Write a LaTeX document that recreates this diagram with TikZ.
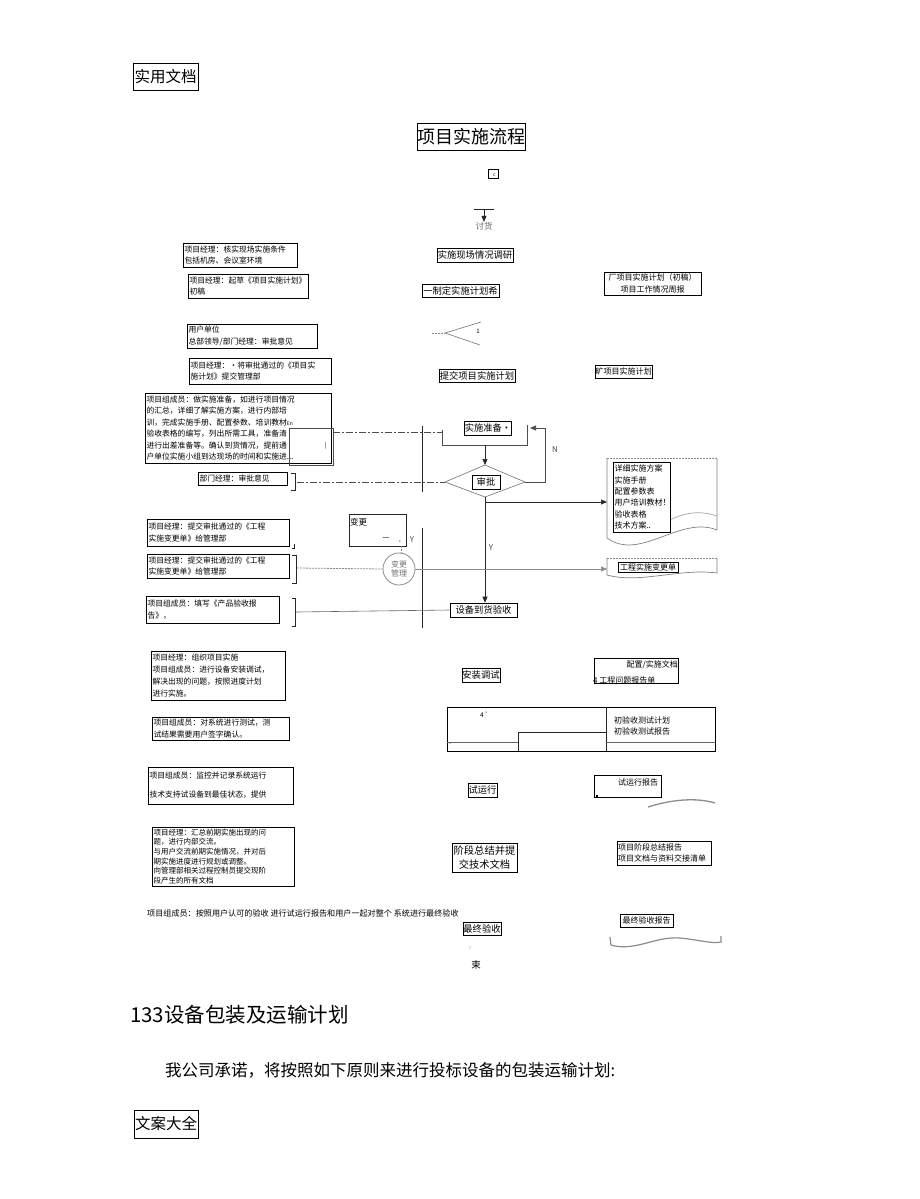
\documentclass[tikz,border=0pt]{standalone}
\usepackage{fontspec}
\setmainfont{Noto Sans CJK SC}
\usetikzlibrary{arrows.meta}
\begin{document}
\begin{tikzpicture}[x=1pt,y=-1pt,
  box/.style={draw=black, line width=0.6pt, inner xsep=1.5pt, inner ysep=0pt},
  note/.style={box, align=left, font=\fontsize{7.8}{11.5}\selectfont},
  cbox/.style={box, align=center, inner xsep=0pt, font=\fontsize{9.3}{11}\selectfont},
  rnote/.style={box, align=left, font=\fontsize{8}{11.3}\selectfont},
  plain/.style={inner sep=0pt, font=\fontsize{8}{10}\selectfont},
  ln/.style={line width=0.6pt, draw=black!85},
  arr/.style={ln, -{Triangle[length=6pt,width=5pt]}},
  dashl/.style={line width=0.9pt, draw=black!70, dash pattern=on 7pt off 2pt on 2pt off 2pt},
  dotl/.style={line width=0.5pt, draw=black!45, dash pattern=on 2pt off 1pt},
  wave/.style={line width=0.7pt, draw=black!50},
]
\fill[white] (0,0) rectangle (920,1199);
\useasboundingbox (0,0) rectangle (920,1199);

% header and title
\node[box, minimum width=65pt, minimum height=27pt, inner xsep=0pt, font=\fontsize{15.5}{16}\selectfont] (hdr) at (165.5,76.5) {实用文档};
\node[box, minimum width=108pt, minimum height=27pt, inner xsep=0pt, font=\fontsize{18}{19}\selectfont] (title) at (471,136.5) {项目实施流程};

% start mark
\node[draw, line width=0.5pt, minimum width=10pt, minimum height=9pt, inner sep=0pt] (start) at (493,173.5) {};
\node[plain, font=\fontsize{5}{5}\selectfont] (startc) at (494.5,175) {c};
\coordinate (tg1) at (474,209);
\coordinate (tg2) at (494,209);
\coordinate (tg) at (484,209);
\draw[ln] (tg1) -- (tg2);
\node[plain, text=black!60, font=\fontsize{8.5}{9}\selectfont] (taohuo) at (484,226) {讨货};
\draw[arr] (tg) -- (taohuo.north);

% left notes
\node[note, minimum width=114pt, text width=111pt, minimum height=24pt] (L1) at (240,255) {项目经理：核实现场实施条件\\包括机房、会议室环境};
\node[note, minimum width=120pt, text width=117pt, minimum height=24pt] (L2) at (248,286) {项目经理：起草《项目实施计划》\\初稿};
\node[note, minimum width=130pt, text width=127pt, minimum height=24pt] (L3) at (252,336) {用户单位\\总部领导/部门经理：审批意见};
\node[note, minimum width=142pt, text width=139pt, minimum height=26pt] (L4) at (260,371) {项目经理：·将审批通过的《项目实\\施计划》提交管理部};
\node[note, minimum width=186pt, text width=183pt, minimum height=70pt] (L5) at (238,428) {项目组成员：做实施准备，如进行项目情况\\的汇总，详细了解实施方案，进行内部培\\训，完成实施手册、配置参数、培训教材{\fontsize{5}{5}\selectfont En}\\验收表格的编写，列出所需工具，准备清\\进行出差准备等。确认到货情况，提前通\\户单位实施小组到达现场的时间和实施进...};
\node[draw=black!70, line width=0.5pt, minimum width=44pt, minimum height=37pt, inner sep=0pt] (L5b) at (311,446.5) {};
\node[plain, font=\fontsize{6}{6}\selectfont] (L5m) at (326,446) {|};
\node[note, minimum width=89pt, text width=86pt, minimum height=13pt] (L6) at (242.5,478.5) {部门经理：审批意见};
\node[note, minimum width=142pt, text width=139pt, minimum height=27pt] (L7) at (218,532.5) {项目经理：提交审批通过的《工程\\实施变更单》给管理部};
\node[note, minimum width=142pt, text width=139pt, minimum height=24pt] (L8) at (218,566) {项目经理：提交审批通过的《工程\\实施变更单》给管理部};
\node[note, minimum width=133pt, text width=130pt, minimum height=27pt] (L9) at (212.5,609.5) {项目组成员：填写《产品验收报\\告》，};
\node[note, minimum width=134pt, text width=131pt, minimum height=49pt, font=\fontsize{7.8}{12}\selectfont] (L10) at (218,675.5) {项目经理：组织项目实施\\项目组成员：进行设备安装调试，\\解决出现的问题，按照进度计划\\进行实施。};
\node[note, minimum width=137pt, text width=134pt, minimum height=23pt] (L11) at (220.5,728.5) {项目组成员：对系统进行测试，测\\试结果需要用户签字确认。};
\node[note, minimum width=145pt, text width=142pt, minimum height=37pt, font=\fontsize{7.8}{19}\selectfont] (L12) at (220.5,785.5) {项目组成员：监控并记录系统运行\\技术支持试设备到最佳状态，提供};
\node[note, minimum width=142pt, text width=139pt, minimum height=59pt, font=\fontsize{7.5}{9.7}\selectfont] (L13) at (223,856.5) {项目经理：汇总前期实施出现的问\\题，进行内部交流。\\与用户交流前期实施情况，并对后\\期实施进度进行规划或调整。\\向管理部相关过程控制员提交现阶\\段产生的所有文档};
\node[plain, anchor=west, font=\fontsize{8.1}{10}\selectfont] (L14) at (147,913) {项目组成员：按照用户认可的验收 进行试运行报告和用户一起对整个 系统进行最终验收};

% brackets at right of notes
\draw[ln] (291,473) -- (295,473) -- (295,490) -- (291,490);
\draw[ln] (292,548) -- (294,548) -- (294,544);
\draw[ln] (292,555) -- (296,555) -- (296,583) -- (292,583);
\draw[ln] (292,598) -- (295,598) -- (295,626) -- (292,626);

% centre column
\node[cbox, minimum width=76pt, minimum height=14pt] (C1) at (475,255) {实施现场情况调研};
\node[cbox, minimum width=77pt, minimum height=13pt] (C2) at (460.5,290.5) {一制定实施计划希};
\node[cbox, minimum width=76pt, minimum height=13pt] (C3) at (477,375.5) {提交项目实施计划};
\node[cbox, minimum width=42pt, minimum height=14pt] (C4) at (488,428) {实施准备·};
\node[cbox, minimum width=28pt, minimum height=14pt] (C5) at (486,482) {审批};
\node[cbox, minimum width=67pt, minimum height=14pt] (C6) at (483.5,610) {设备到货验收};
\node[cbox, minimum width=38pt, minimum height=14pt] (C7) at (481,675) {安装调试};
\node[cbox, minimum width=29pt, minimum height=14pt] (C8) at (482.5,790) {试运行};
\node[cbox, minimum width=65pt, minimum height=29pt, font=\fontsize{10.3}{13.5}\selectfont] (C9) at (484.5,857.5) {阶段总结并提\\交技术文档};
\node[cbox, minimum width=38pt, minimum height=13pt] (C10) at (482,928.5) {最终验收};
\node[plain, text=black!40, font=\fontsize{6}{6}\selectfont] (bang) at (470,948) {!};
\node[plain, font=\fontsize{9.5}{10}\selectfont] (shu) at (476,965) {束};

% branching "<"
\coordinate (lt) at (445,333);
\coordinate (ltU) at (481,322);
\coordinate (ltD) at (480,345);
\coordinate (ltS) at (432,333);
\draw[ln, draw=black!55] (ltU) -- (lt) -- (ltD);
\draw[dotl] (ltS) -- (lt);
\node[plain, font=\fontsize{6}{6}\selectfont] (lt1) at (478,331) {1};

% swim-lane verticals
\coordinate (v1a) at (422,426);
\coordinate (v1b) at (422,492);
\coordinate (v2a) at (422,528);
\coordinate (v2b) at (422,628);
\draw[ln] (v1a) -- (v1b);
\draw[ln] (v2a) -- (v2b);

% preparation bracket and links
\coordinate (pb1) at (442,430);
\coordinate (pb2) at (442,445);
\coordinate (pb3) at (527,445);
\coordinate (pb4) at (527,425);
\draw[ln, draw=black!70] (pb1) -- (pb2) -- (pb3) -- (pb4);
\coordinate (p1) at (333,432);
\coordinate (p2) at (442,432);
\draw[dashl] (p1) -- (p2);

% diamond
\coordinate (dL) at (445,482);
\coordinate (dT) at (485,465);
\coordinate (dR) at (525,482);
\coordinate (dB) at (485,497);
\coordinate (pm) at (485,445);
\draw[arr] (pm) -- (dT);
\draw[ln, draw=black!55] (dL) -- (dT) -- (dR) -- (dB) -- cycle;
\coordinate (nl1) at (545,482);
\coordinate (nl2) at (545,428);
\coordinate (nl3) at (530,428);
\draw[ln, draw=black!70, -{Triangle[length=6pt,width=5pt]}] (dR) -- (nl1) -- (nl2) -- (nl3);
\node[plain, text=black!70] (N) at (555,450) {N};
\coordinate (b6) at (297,482);
\draw[dashl] (b6) -- (dL);
\draw[arr] (dB) -- (dB |- C6.north);
\node[plain, text=black!70] (Y1) at (491,548) {Y};

% change management
\node[draw=black!85, line width=0.6pt, minimum width=57pt, minimum height=32pt, inner sep=0pt] (chg) at (377.5,530) {};
\node[plain, anchor=west, font=\fontsize{8.5}{9}\selectfont] (chgt) at (350,522) {变更};
\node[plain, font=\fontsize{8}{8}\selectfont] (chgd) at (386,539) {—};
\node[plain, font=\fontsize{6}{6}\selectfont] (chgc) at (400,542) {,};
\node[plain, text=black!70] (Y2) at (412,540) {Y};
\node[circle, draw=black!45, line width=0.8pt, minimum size=32pt, inner sep=0pt, text=black!55, align=center, font=\fontsize{8}{9.5}\selectfont] (cm) at (399,569) {变更\\管理};
\draw[dotl] (chg.south -| 401,0) -- (cm.north -| 401,0);
\coordinate (b8) at (297,568);
\draw[dotl, line width=0.8pt] (b8) -- (cm.west);
\coordinate (b9) at (296,612);
\draw[ln, draw=black!60] (b9) -- (C6.west);

% right side documents
\node[rnote, minimum width=97pt, minimum height=23pt, align=center, inner xsep=0pt] (R1) at (652.5,283.5) {厂项目实施计划（初稿）\\项目工作情况周报};
\node[rnote, minimum width=57pt, minimum height=13pt, inner xsep=0pt, align=center] (R2) at (623.5,371.5) {旷项目实施计划};

% document shape with list
\coordinate (d1a) at (607,458);
\coordinate (d1b) at (717,458);
\coordinate (d1c) at (717,530);
\coordinate (d1d) at (607,538);
\draw[dotl] (d1a) -- (d1b);
\draw[wave] (d1a) -- (d1d) .. controls (640,562) and (680,515) .. (d1c) -- (d1b);
\draw[wave, draw=black!35] (670,520) .. controls (690,510) and (705,512) .. (717,516);
\node[rnote, minimum width=57pt, minimum height=70pt, text width=54pt] (R3) at (641.5,497) {详细实施方案\\实施手册\\配置参数表\\用户培训教材！\\验收表格\\技术方案..};
\coordinate (a1) at (485,502);
\draw[arr] (a1) -- (a1 -| d1a);

\coordinate (d2a) at (607,558);
\coordinate (d2b) at (717,558);
\coordinate (d2c) at (717,573);
\coordinate (d2d) at (607,575);
\draw[dotl] (d2a) -- (d2b);
\draw[wave] (d2a) -- (d2d) .. controls (640,584) and (680,568) .. (d2c) -- (d2b);
\node[rnote, minimum width=60pt, minimum height=10pt, inner xsep=0pt, align=center] (R4) at (648,567) {工程实施变更单};
\draw[ln, draw=black!45, -{Triangle[length=6pt,width=5pt]}] (cm.east) -- (cm.east -| d2a);

\node[box, minimum width=84pt, minimum height=25pt] (R5) at (636,670.5) {};
\node[plain, anchor=east] (R5a) at (678,665) {配置/实施文档};
\node[plain, anchor=west] (R5b) at (593,680) {4 工程问题报告单};

% test box
\node[box, minimum width=268pt, minimum height=44pt] (R6) at (581,729) {};
\coordinate (r6a) at (606,707);
\coordinate (r6b) at (606,751);
\coordinate (r6c) at (518,732);
\coordinate (r6d) at (518,751);
\coordinate (r6e) at (447,742);
\coordinate (r6f) at (715,742);
\draw[ln] (r6a) -- (r6b);
\draw[ln] (r6d) -- (r6c) -- (r6c -| r6a);
\draw[ln, draw=black!60, line width=0.4pt] (r6e) -- (r6e -| r6c);
\draw[ln, draw=black!60, line width=0.4pt] (r6f -| r6a) -- (r6f);
\node[plain, font=\fontsize{6.5}{7}\selectfont] (r6t) at (486,715) {4 '};
\node[plain, font=\fontsize{5}{5}\selectfont] (r6m) at (450,745) {-};
\node[plain, anchor=west, align=left, font=\fontsize{8}{11}\selectfont] (r6x) at (614,725.5) {初验收测试计划\\初验收测试报告};

\node[box, minimum width=67pt, minimum height=22pt] (R7) at (627.5,786) {};
\node[plain] (R7t) at (638,782) {试运行报告};
\fill (596,795) rectangle (598,797);
\draw[wave, line width=1.3pt, draw=black!45] (648,807) .. controls (670,800) and (695,797) .. (715,803);

\node[rnote, minimum width=94pt, minimum height=24pt, text width=92pt, inner xsep=1pt] (R8) at (664,853) {项目阶段总结报告\\项目文档与资料交接清单};
\node[rnote, minimum width=53pt, minimum height=13pt, inner xsep=0pt, align=center] (R9) at (646.5,920.5) {最终验收报告};
\draw[wave, line width=1.2pt, draw=black!45] (610,937) -- (611,945) .. controls (635,952) and (655,936) .. (680,938) .. controls (700,940) and (712,944) .. (721,942) -- (721,936);

% text below
\node[plain, anchor=west, font=\fontsize{20.5}{22}\selectfont] (sec) at (130,1015) {133设备包装及运输计划};
\node[plain, anchor=west, font=\fontsize{16.5}{18}\selectfont] (para) at (165,1070) {我公司承诺，将按照如下原则来进行投标设备的包装运输计划:};
\node[box, minimum width=64pt, minimum height=28pt, inner xsep=0pt, font=\fontsize{15.5}{16}\selectfont] (ftr) at (166,1124) {文案大全};
\end{tikzpicture}
\end{document}
